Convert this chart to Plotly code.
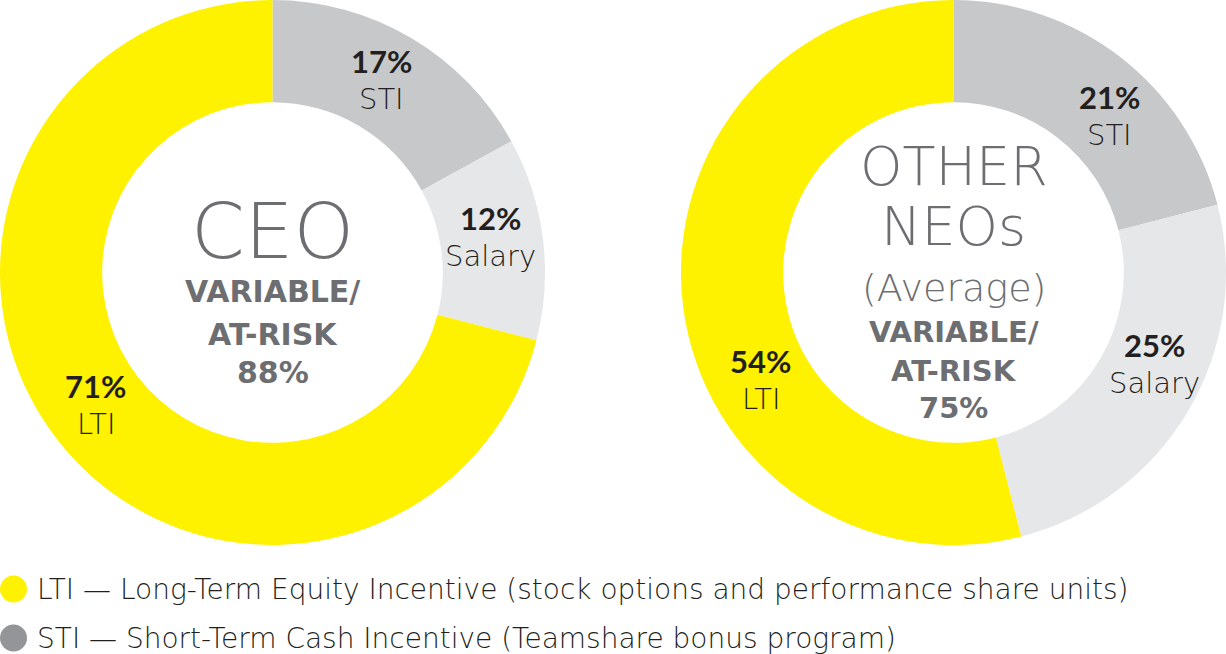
import math
import plotly.graph_objects as go

# ---- data ----
categories = ["STI", "Salary", "LTI"]
ceo_values = [17, 12, 71]
neo_values = [21, 25, 54]
ceo_title = ["CEO"]
neo_title = ["OTHER", "NEOs", "(Average)"]
at_risk_label = ["VARIABLE/", "AT-RISK"]
ceo_at_risk = "88%"
neo_at_risk = "75%"
legend_items = [
    "LTI — Long-Term Equity Incentive (stock options and performance share units)",
    "STI — Short-Term Cash Incentive (Teamshare bonus program)",
]

# ---- style ----
W, H = 1226, 654
colors = ["#C7C8CA", "#E6E7E8", "#FFF200"]
legend_colors = ["#FFF200", "#939598"]
dark = "#231F20"
grey_txt = "#6D6E71"
LIGHT = dict(family="DejaVu Sans", weight=200)
BOLD = dict(family="DejaVu Sans", weight=700)
PCT = dict(family="Lato", weight=700)
HOLE = 0.625
R_OUT = 272.5
R_MID = 221
# label angle offsets (deg) from slice mid-angle
ceo_label_shift = [-1, -2, 1]
neo_label_shift = [7, -6, -22]

ceo_dom = dict(x=[0, 545 / W], y=[1 - 545 / H, 1])
neo_dom = dict(x=[681 / W, 1], y=[1 - 545 / H, 1])

fig = go.Figure()
for vals, dom in [(ceo_values, ceo_dom), (neo_values, neo_dom)]:
    fig.add_trace(go.Pie(
        labels=categories, values=vals, hole=HOLE, sort=False,
        direction="clockwise", rotation=0, domain=dom,
        marker=dict(colors=colors, line=dict(width=0)),
        textinfo="none", hoverinfo="label+percent", showlegend=False,
    ))

annotations = []


def add_text(px, py, text, font, size, color, xanchor="center"):
    annotations.append(dict(
        x=px / W, y=1 - py / H, xref="paper", yref="paper", text=text,
        showarrow=False, xanchor=xanchor, yanchor="middle",
        font=dict(size=size, color=color, **font),
    ))


def slice_labels(vals, dom, shifts):
    cx = (dom["x"][0] + dom["x"][1]) / 2 * W
    cy = (1 - (dom["y"][0] + dom["y"][1]) / 2) * H
    total = sum(vals)
    cum = 0
    for lab, v, sh in zip(categories, vals, shifts):
        mid = (cum + v / 2) / total * 360 + sh
        cum += v
        px = cx + R_MID * math.sin(math.radians(mid))
        py = cy - R_MID * math.cos(math.radians(mid))
        add_text(px, py - 19, f"{v}%", PCT, 31, dark)
        add_text(px, py + 19, lab, LIGHT, 29, dark)
    return cx, cy


ccx, ccy = slice_labels(ceo_values, ceo_dom, ceo_label_shift)
ncx, ncy = slice_labels(neo_values, neo_dom, neo_label_shift)

for text, py, font, size in [
    (ceo_title[0], 232, LIGHT, 77),
    (at_risk_label[0], 291, BOLD, 30),
    (at_risk_label[1], 334, BOLD, 30),
    (ceo_at_risk, 372, BOLD, 30),
]:
    add_text(ccx, py, text, font, size, grey_txt)

for text, py, font, size in [
    (neo_title[0], 166, LIGHT, 54),
    (neo_title[1], 227, LIGHT, 54),
    (neo_title[2], 288, LIGHT, 38),
    (at_risk_label[0], 332, BOLD, 29),
    (at_risk_label[1], 371, BOLD, 29),
    (neo_at_risk, 408, BOLD, 29),
]:
    add_text(ncx, py, text, font, size, grey_txt)

shapes = []
for i, (txt, col) in enumerate(zip(legend_items, legend_colors)):
    yc = 589 + i * 49
    shapes.append(dict(type="circle", xref="paper", yref="paper",
                       x0=0 / W, x1=27 / W, y0=1 - (yc + 13.5) / H, y1=1 - (yc - 13.5) / H,
                       fillcolor=col, line=dict(width=0)))
    add_text(35, yc, txt, LIGHT, 28, dark, xanchor="left")

fig.update_layout(
    width=W, height=H, margin=dict(l=0, r=0, t=0, b=0),
    paper_bgcolor="white", plot_bgcolor="white",
    annotations=annotations, shapes=shapes,
)
fig.write_html(
    "out.html",
    config={"displayModeBar": False},
    post_script="document.body.style.margin='0';document.body.style.overflow='hidden';",
)
